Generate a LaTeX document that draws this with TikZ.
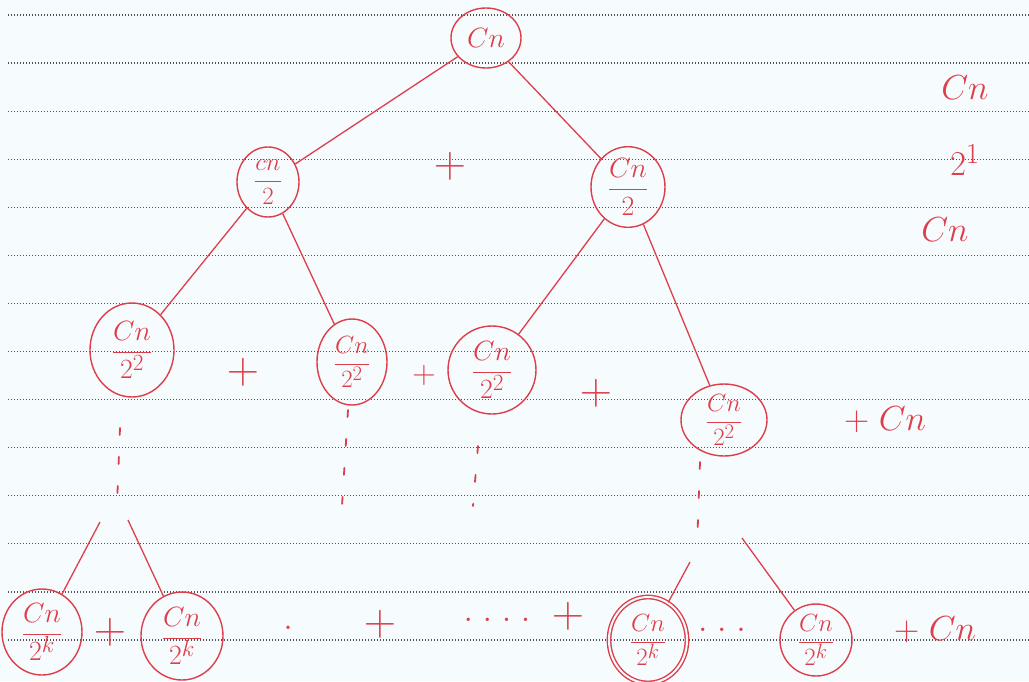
\documentclass[tikz,border=0pt]{standalone}
\usepackage{graphicx}
\usetikzlibrary{shapes.geometric}
\definecolor{ink}{RGB}{222,62,74}
\definecolor{paper}{RGB}{246,251,253}
\definecolor{rule}{RGB}{80,80,88}
\newcommand\lblscale[1]{\scalebox{1.4}{#1}}
\newcommand\plusscale[1]{\scalebox{1.8}{#1}}
\newcommand\fracscale[1]{\scalebox{1.12}{#1}}
\begin{document}
\begin{tikzpicture}[x=1pt,y=-1pt,
  nd/.style={ellipse,draw=ink,line width=1.4pt,text=ink,inner sep=0pt,
    font=\fontsize{24.88}{30}\selectfont},
  edge/.style={draw=ink,line width=1.3pt},
  dashcol/.style={draw=ink,line width=1.8pt,dash pattern=on 7pt off 22pt,line cap=round},
  lbl/.style={text=ink,font=\fontsize{24.88}{30}\selectfont},
  plus/.style={text=ink,font=\fontsize{24.88}{30}\selectfont}]
\fill[paper] (0,0) rectangle (1029,681);
\useasboundingbox (0,0) rectangle (1029,681);
% ruled paper
\foreach \k in {0,...,13}{
  \draw[rule,line width=1.2pt,dash pattern=on 1.2pt off 1.8pt] (8,{15+48.08*\k}) -- (1029,{15+48.08*\k});
}
% level 0
\node[nd,minimum width=70pt,minimum height=60pt] (root) at (486,38) {\fracscale{$Cn$}};
% level 1
\node[nd,minimum width=62pt,minimum height=70pt] (a) at (268,182) {$\displaystyle\frac{cn}{2}$};
\node[nd,minimum width=74pt,minimum height=74pt] (b) at (628,187) {\fracscale{$\displaystyle\frac{Cn}{2}$}};
\node[plus] (p1) at (450,166) {\plusscale{$+$}};
% level 2
\node[nd,minimum width=84pt,minimum height=94pt] (aa) at (132,350) {\fracscale{$\displaystyle\frac{Cn}{2^2}$}};
\node[nd,minimum width=70pt,minimum height=86pt] (ab) at (352,362) {$\displaystyle\frac{Cn}{2^2}$};
\node[nd,minimum width=88pt,minimum height=88pt] (ba) at (492,370) {\fracscale{$\displaystyle\frac{Cn}{2^2}$}};
\node[nd,minimum width=86pt,minimum height=68pt] (bb) at (724,420) {$\displaystyle\frac{Cn}{2^2}$};
\node[plus] (p2) at (243,372) {\plusscale{$+$}};
\node[plus] (p3) at (424,375) {\scalebox{1.3}{$+$}};
\node[plus] (p4) at (596,393) {\plusscale{$+$}};
\node[lbl] (s2) at (885,420) {\lblscale{$+\;Cn$}};
% edges
\draw[edge] (root) -- (a);
\draw[edge] (root) -- (b);
\draw[edge] (a) -- (aa);
\draw[edge] (a) -- (ab);
\draw[edge] (b) -- (ba);
\draw[edge] (b) -- (bb);
% dashed continuation
\coordinate (da1) at (120,428); \coordinate (da2) at (117,505);
\coordinate (db1) at (348,410); \coordinate (db2) at (341,522);
\coordinate (dc1) at (478,446); \coordinate (dc2) at (473,506);
\coordinate (dd1) at (700,462); \coordinate (dd2) at (697,548);
\draw[dashcol] (da1) -- (da2);
\draw[dashcol] (db1) -- (db2);
\draw[dashcol] (dc1) -- (dc2);
\draw[dashcol] (dd1) -- (dd2);
% level k
\node[nd,minimum width=80pt,minimum height=86pt] (ka) at (42,632) {\fracscale{$\displaystyle\frac{Cn}{2^k}$}};
\node[nd,minimum width=82pt,minimum height=88pt] (kb) at (182,636) {\fracscale{$\displaystyle\frac{Cn}{2^k}$}};
\node[nd,double=paper,double distance=2pt,minimum width=78pt,minimum height=86pt] (kc) at (648,640) {$\displaystyle\frac{Cn}{2^k}$};
\node[nd,minimum width=72pt,minimum height=68pt] (kd) at (816,640) {$\displaystyle\frac{Cn}{2^k}$};
\coordinate (sa1) at (100,522);
\coordinate (sa2) at (128,520);
\coordinate (sc1) at (690,562);
\coordinate (sc2) at (742,538);
\draw[edge] (sa1) -- (ka);
\draw[edge] (sa2) -- (kb);
\draw[edge] (sc1) -- (kc);
\draw[edge] (sc2) -- (kd);
\node[plus] (q1) at (110,632) {\plusscale{$+$}};
\node[lbl] (q2) at (288,628) {\lblscale{$.$}};
\node[plus] (q3) at (380,624) {\plusscale{$+$}};
\node[lbl] (q4) at (497,620) {\lblscale{$.\;.\;.\;.$}};
\node[plus] (q5) at (568,616) {\plusscale{$+$}};
\node[lbl] (q6) at (722,630) {\lblscale{$.\;.\;.$}};
\node[lbl] (q7) at (935,630) {\lblscale{$+\;Cn$}};
% right column
\node[lbl] (r1) at (965,88) {\lblscale{$Cn$}};
\node[lbl] (r2) at (965,160) {\lblscale{$2^{1}$}};
\node[lbl] (r3) at (945,230) {\lblscale{$Cn$}};
\end{tikzpicture}
\end{document}
